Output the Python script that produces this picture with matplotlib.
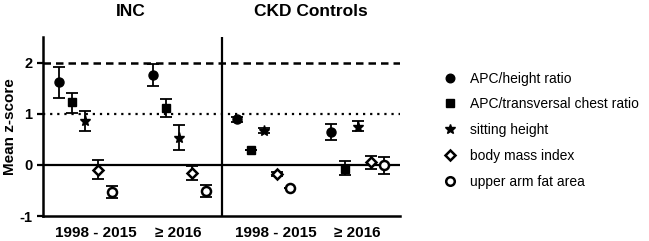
import numpy as np
import matplotlib
matplotlib.use("Agg")
import matplotlib.pyplot as plt
from matplotlib.lines import Line2D

plt.rcParams['font.family'] = ['Liberation Sans', 'DejaVu Sans']

# data: mean z-score and error bar (low/high) per measure, per group
groups = ['INC 1998 - 2015', 'INC >= 2016', 'CKD 1998 - 2015', 'CKD >= 2016']
measures = ['APC/height ratio', 'APC/transversal chest ratio', 'sitting height',
            'body mass index', 'upper arm fat area']

means = {
    'APC/height ratio':            [1.62, 1.75, 0.89, 0.64],
    'APC/transversal chest ratio': [1.22, 1.12, 0.30, -0.08],
    'sitting height':              [0.85, 0.53, 0.67, 0.75],
    'body mass index':             [-0.10, -0.16, -0.18, 0.05],
    'upper arm fat area':          [-0.54, -0.52, -0.45, 0.00],
}
err_low = {
    'APC/height ratio':            [1.31, 1.54, 0.84, 0.49],
    'APC/transversal chest ratio': [1.02, 0.93, 0.30, -0.19],
    'sitting height':              [0.67, 0.30, 0.62, 0.67],
    'body mass index':             [-0.28, -0.29, -0.22, -0.09],
    'upper arm fat area':          [-0.65, -0.63, -0.45, -0.18],
}
err_high = {
    'APC/height ratio':            [1.91, 1.97, 0.94, 0.79],
    'APC/transversal chest ratio': [1.40, 1.29, 0.30, 0.07],
    'sitting height':              [1.05, 0.77, 0.72, 0.85],
    'body mass index':             [0.09, -0.03, -0.14, 0.17],
    'upper arm fat area':          [-0.42, -0.40, -0.45, 0.16],
}
tick_labels = ['1998 - 2015', '\u2265 2016', '1998 - 2015', '\u2265 2016']
panel_titles = ['INC', 'CKD Controls']

# layout
group_x = [1.0, 2.0, 2.9, 3.9]
offsets = [-0.28, -0.14, 0.0, 0.14, 0.28]
label_x = [1.114, 1.986, 3.03, 3.89]
styles = {
    'APC/height ratio':            dict(marker='o', ms=6.5, mfc='black'),
    'APC/transversal chest ratio': dict(marker='s', ms=6, mfc='black'),
    'sitting height':              dict(marker='*', ms=8, mfc='black'),
    'body mass index':             dict(marker='D', ms=5.5, mfc='white', mew=1.8),
    'upper arm fat area':          dict(marker='o', ms=6.5, mfc='white', mew=1.8),
}

fig = plt.figure(figsize=(6.49, 2.41), dpi=100)
ax = fig.add_axes([43/649, 25/241, 357/649, 179/241])

ax.axhline(2, color='black', lw=1.8, ls=(0, (3, 2)), zorder=1)
ax.axhline(1, color='black', lw=1.6, ls=(0, (1, 2.2)), zorder=1)
ax.axhline(0, color='black', lw=1.6, zorder=1)
ax.axvline(2.45, color='black', lw=1.6, zorder=1)

for i, m in enumerate(measures):
    xs = np.array(group_x) + offsets[i]
    y = np.array(means[m])
    lo = y - np.array(err_low[m])
    hi = np.array(err_high[m]) - y
    st = styles[m]
    ax.errorbar(xs, y, yerr=[lo, hi], fmt='none', ecolor='black',
                elinewidth=1.3, capsize=4, capthick=1.3, zorder=2)
    ax.plot(xs, y, ls='none', marker=st['marker'], ms=st['ms'],
            mfc=st['mfc'], mec='black', mew=st.get('mew', 1), zorder=3)

ax.set_xlim(0.55, 4.35)
ax.set_ylim(-1, 2.5)
ax.set_yticks([-1, 0, 1, 2])
ax.set_yticklabels(['-1', '0', '1', '2'], fontweight='bold', fontsize=10.5)
ax.set_xticks(label_x)
ax.set_xticklabels(tick_labels, fontweight='bold', fontsize=11)
ax.tick_params(axis='x', length=0, pad=7)
ax.tick_params(axis='y', width=1.6, length=4)
ax.set_ylabel('Mean z-score', fontweight='bold', fontsize=11, labelpad=2)

for s in ['top', 'right']:
    ax.spines[s].set_visible(False)
for s in ['left', 'bottom']:
    ax.spines[s].set_linewidth(1.8)

fig.text(131/649, 1 - 12/241, panel_titles[0], ha='center', va='center',
         fontweight='bold', fontsize=12.5)
fig.text(311/649, 1 - 12/241, panel_titles[1], ha='center', va='center',
         fontweight='bold', fontsize=12.5)

handles = []
for m in measures:
    st = styles[m]
    handles.append(Line2D([], [], ls='none', marker=st['marker'],
                          ms=st['ms'] * 0.95, mfc=st['mfc'], mec='black',
                          mew=st.get('mew', 1), label=m))
fig.legend(handles=handles, loc='upper left', bbox_to_anchor=(436/649, 1 - 66/241),
           frameon=False, fontsize=10, handlelength=1.2, handletextpad=0.85,
           labelspacing=0.85, borderaxespad=0)

fig.savefig('out.png', dpi=100)
